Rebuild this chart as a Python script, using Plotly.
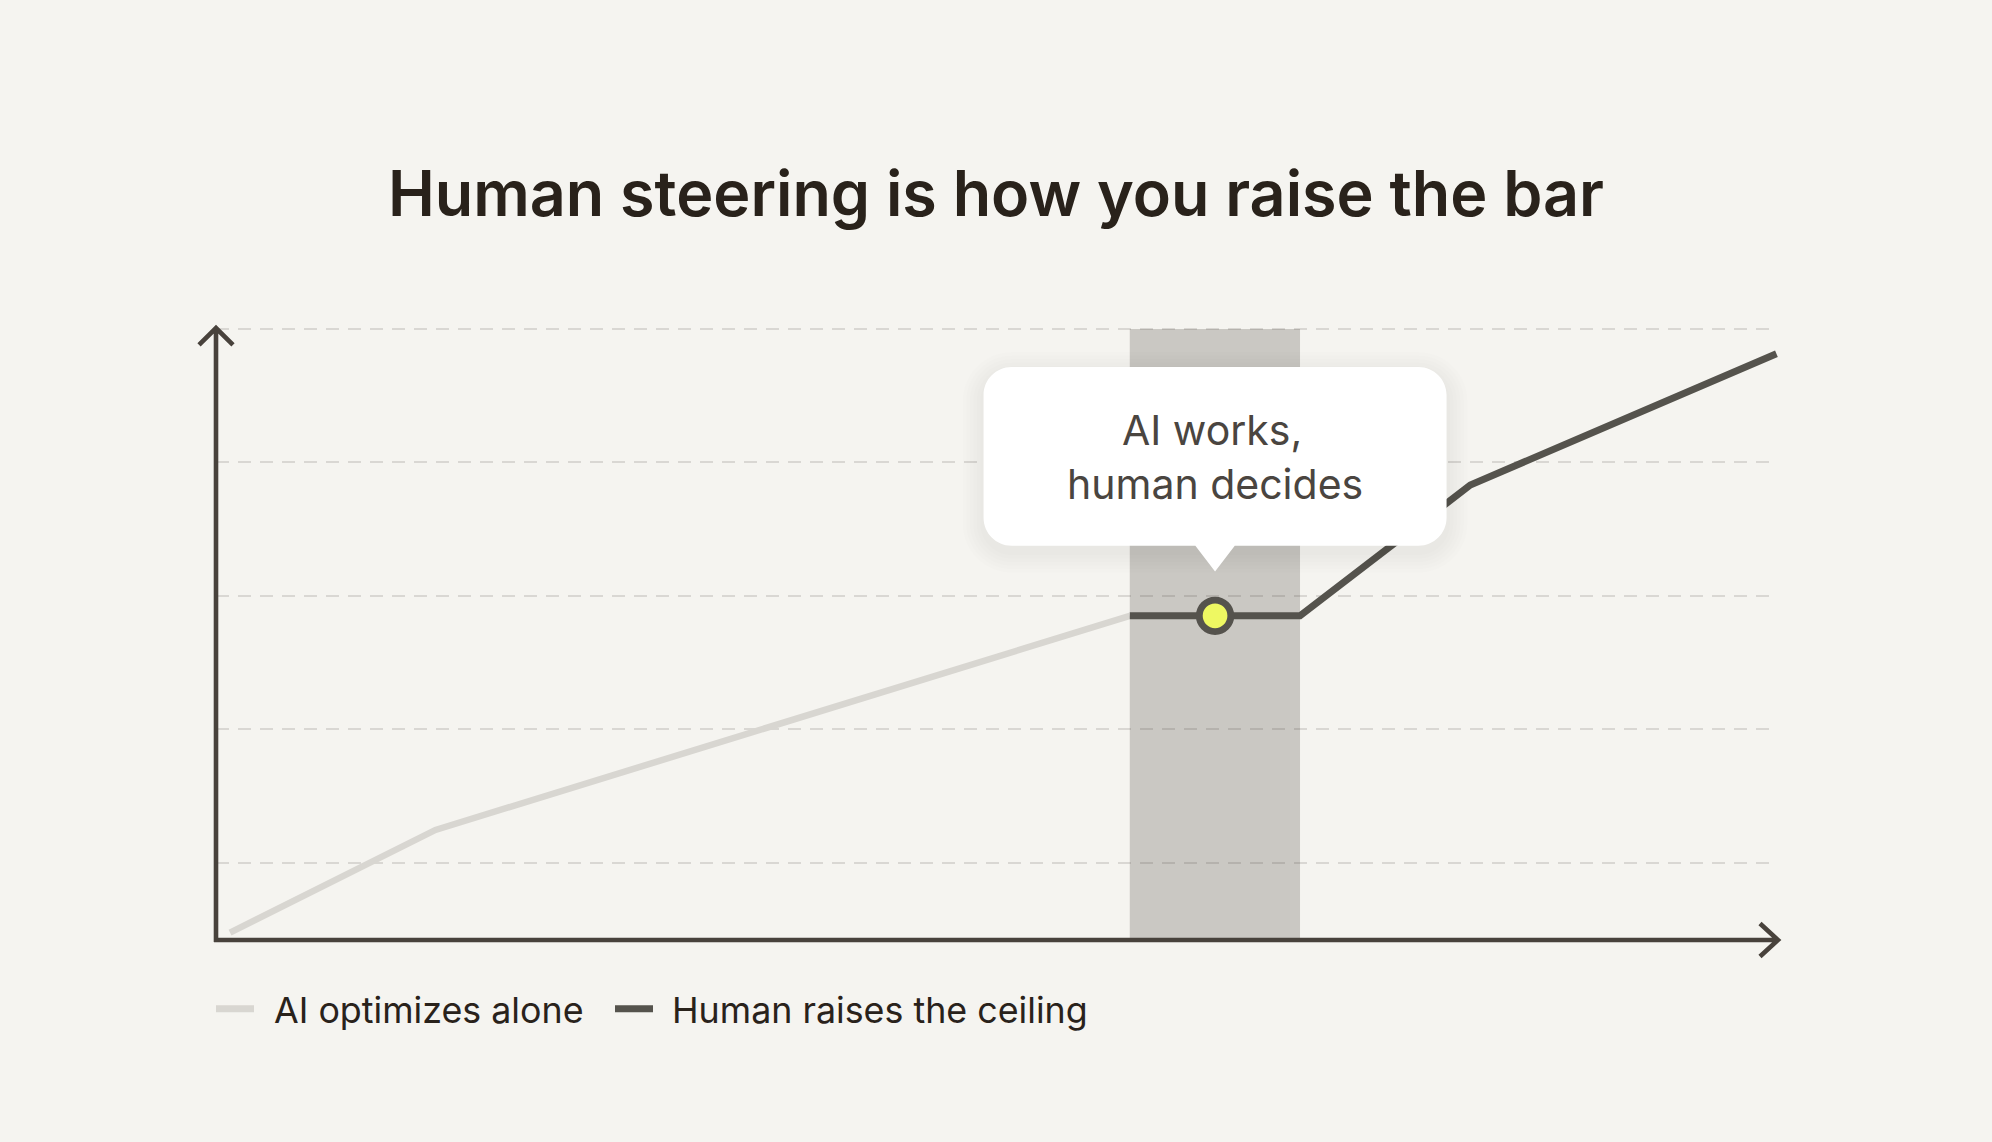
import plotly.graph_objects as go

# ---------------- data ----------------
ai_x = [0.9, 14.05, 58.5]
ai_y = [9.5, 24.9, 57.0]
human_x = [58.5, 69.4, 80.3, 99.9]
human_y = [57.0, 57.0, 76.6, 96.3]
steer_x = [63.96]
steer_y = [57.0]
band_x = [58.5, 69.4]
grid_vals = [20, 40, 60, 80, 100]
series_names = ["AI optimizes alone", "Human raises the ceiling"]
title_text = "Human steering is how you raise the bar"
callout_lines = ["AI works,", "human decides"]

# ---------------- style ----------------
W, H = 1992, 1142
L, R, T, B = 216, 1778, 327, 940
PW, PH = R - L, B - T
BG = "#f5f4f0"
INK = "#29221b"
AXIS = "#48423c"
DARK = "#55534d"
LIGHT = "#d8d6d1"
BAND = "#cac8c3"
FONT = "Inter, 'Noto Sans', sans-serif"

def px(x):
    return (x - L) / PW

def py(y):
    return (B - y) / PH

fig = go.Figure()

series_colors = [LIGHT, DARK]
fig.add_trace(go.Scatter(
    x=ai_x, y=ai_y, mode="lines", name=series_names[0], showlegend=False,
    line=dict(color=series_colors[0], width=6.5), hoverinfo="skip"))
fig.add_trace(go.Scatter(
    x=human_x, y=human_y, mode="lines", name=series_names[1], showlegend=False,
    line=dict(color=series_colors[1], width=7), hoverinfo="skip"))
fig.add_trace(go.Scatter(
    x=steer_x, y=steer_y, mode="markers", showlegend=False, name="steering point",
    marker=dict(size=31.5, color="#eef862", line=dict(color=DARK, width=6.8)),
    hoverinfo="skip", cliponaxis=False))

shapes = []
# steering band
shapes.append(dict(type="rect", xref="x", yref="y", x0=band_x[0], x1=band_x[1],
                   y0=8.4, y1=grid_vals[-1], fillcolor=BAND, line_width=0,
                   layer="below"))

# axes with arrowheads (pixel -> paper)
def P(x, y):
    return f"{px(x):.5f},{py(y):.5f}"

xaxis_path = f"M{P(214, 940)} L{P(1778, 940)} M{P(1760, 923.5)} L{P(1778, 940)} L{P(1760, 956.5)}"
yaxis_path = f"M{P(216, 942)} L{P(216, 328)} M{P(199, 345)} L{P(216, 328)} L{P(233, 345)}"
for pth in (xaxis_path, yaxis_path):
    shapes.append(dict(type="path", xref="paper", yref="paper", path=pth,
                       line=dict(color=AXIS, width=4.6), layer="above"))

# callout bubble (pixel offsets from the steering point; +y is up)
def rbox(l, r, b, t, rad, notch=None):
    k = 0.552 * rad
    s = f"M{l+rad},{t} L{r-rad},{t} C{r-rad+k},{t} {r},{t-rad+k} {r},{t-rad} "
    s += f"L{r},{b+rad} C{r},{b+rad-k} {r-rad+k},{b} {r-rad},{b} "
    if notch:
        hw, tip = notch
        s += f"L{hw},{b} L0,{tip} L{-hw},{b} "
    s += f"L{l+rad},{b} C{l+rad-k},{b} {l},{b+rad-k} {l},{b+rad} "
    s += f"L{l},{t-rad} C{l},{t-rad+k} {l+rad-k},{t} {l+rad},{t} Z"
    return s

bl, br, bb, bt, rad = -231.5, 231.5, 70, 248.7, 28
for i in range(1, 7):
    e = 3.5 * i
    shapes.append(dict(type="path", xref="x", yref="y", xsizemode="pixel", ysizemode="pixel",
                       xanchor=steer_x[0], yanchor=steer_y[0],
                       path=rbox(bl - e, br + e, bb - e - 6, bt + e - 6, rad + e),
                       fillcolor="rgba(40,30,20,0.007)", line_width=0, layer="above"))
shapes.append(dict(type="path", xref="x", yref="y", xsizemode="pixel", ysizemode="pixel",
                   xanchor=steer_x[0], yanchor=steer_y[0],
                   path=rbox(bl, br, bb, bt, rad, notch=(19.7, 44.3)),
                   fillcolor="#ffffff", line_width=0, layer="above"))

annotations = []
for txt, shift, dx in zip(callout_lines, [186, 132], [-3, 0]):
    annotations.append(dict(x=steer_x[0], y=steer_y[0], xref="x", yref="y", text=txt,
                            showarrow=False, yshift=shift, xshift=dx,
                            xanchor="center", yanchor="middle",
                            font=dict(family=FONT, size=41, color="#4a4540")))

# legend (swatch + label), drawn in paper space
legend_swatch_x = [216, 615]
legend_text_x = [271.5, 670]
LEG_Y = 1008.7
for name, col, sx, tx in zip(series_names, series_colors, legend_swatch_x, legend_text_x):
    shapes.append(dict(type="line", xref="paper", yref="paper",
                       x0=px(sx), x1=px(sx + 38), y0=py(LEG_Y), y1=py(LEG_Y),
                       line=dict(color=col, width=7)))
    annotations.append(dict(x=px(tx), y=py(LEG_Y + 1), xref="paper", yref="paper", text=name,
                            showarrow=False, xanchor="left", yanchor="middle",
                            font=dict(family=FONT, size=35.8, color=INK)))

fig.update_layout(
    width=W, height=H,
    paper_bgcolor=BG, plot_bgcolor=BG,
    margin=dict(l=L, r=W - R, t=T, b=H - B, autoexpand=False),
    title=dict(text=title_text, x=0.5, xanchor="center", y=1 - 194 / H, yanchor="middle",
               yref="container",
               font=dict(family=FONT, size=62.8, color=INK, weight=600)),
    xaxis=dict(range=[0, 100], showgrid=False, zeroline=False, showticklabels=False,
               showline=False, ticks="", fixedrange=True),
    yaxis=dict(range=[8.4, 100.3], tickvals=grid_vals, showgrid=True,
               gridcolor="rgba(60,55,48,0.15)", gridwidth=2, griddash="13px,9px",
               zeroline=False, showticklabels=False, showline=False, ticks="",
               fixedrange=True),
    showlegend=False,
    shapes=shapes,
    annotations=annotations,
)

fig.write_html("out.html")
